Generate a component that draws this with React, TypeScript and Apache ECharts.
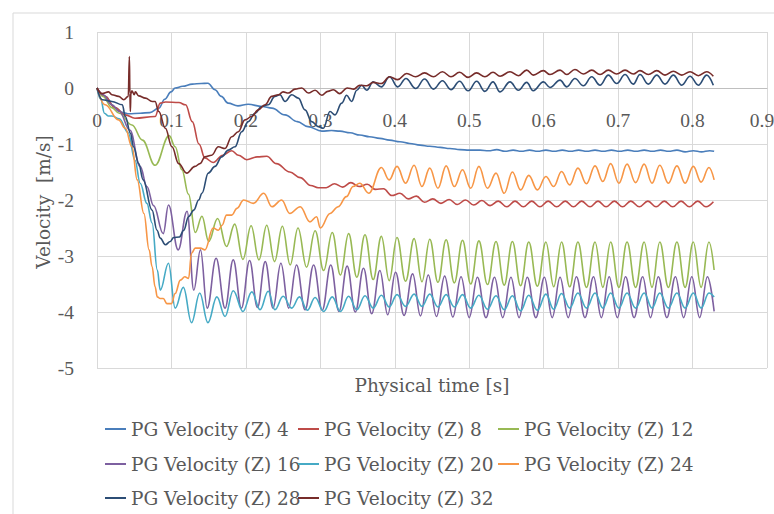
import React, { useEffect, useRef } from "react";
import * as echarts from "echarts";

const seriesNames = [
  "PG Velocity (Z) 4",
  "PG Velocity (Z) 8",
  "PG Velocity (Z) 12",
  "PG Velocity (Z) 16",
  "PG Velocity (Z) 20",
  "PG Velocity (Z) 24",
  "PG Velocity (Z) 28",
  "PG Velocity (Z) 32",
];
const seriesColors = ["#4A7EBB", "#BE4B48", "#98B954", "#7D60A0", "#46AAC5", "#F79646", "#2C4D75", "#772C2A"];
const xTickLabels = ["0", "0.1", "0.2", "0.3", "0.4", "0.5", "0.6", "0.7", "0.8", "0.9"];

const s4 = [
  [0, 0], [0.011, -0.15], [0.024, -0.35], [0.035, -0.44], [0.043, -0.46], [0.058, -0.45], [0.071, -0.44],
  [0.083, -0.36], [0.091, -0.2], [0.0994, -0.07], [0.105, 0.0], [0.115, 0.03], [0.128, 0.07], [0.14, 0.08],
  [0.149, 0.085], [0.1585, -0.03], [0.167, -0.15], [0.176, -0.27], [0.1894, -0.32], [0.203, -0.29],
  [0.2217, -0.33], [0.235, -0.36], [0.2526, -0.48], [0.269, -0.6], [0.2834, -0.69], [0.302, -0.77],
  [0.315, -0.76], [0.3264, -0.77], [0.34, -0.8], [0.353, -0.84], [0.366, -0.87], [0.38, -0.9], [0.393, -0.93],
  [0.407, -0.96], [0.42, -0.99], [0.434, -1.02], [0.447, -1.04], [0.461, -1.06], [0.474, -1.08], [0.4876, -1.1],
  [0.5, -1.11], [0.5145, -1.11], [0.526, -1.12], [0.537, -1.1], [0.548, -1.13], [0.559, -1.11], [0.57, -1.13],
  [0.581, -1.11], [0.592, -1.13], [0.603, -1.11], [0.614, -1.13], [0.625, -1.11], [0.636, -1.13], [0.647, -1.11],
  [0.658, -1.13], [0.669, -1.11], [0.68, -1.13], [0.691, -1.11], [0.702, -1.13], [0.713, -1.11], [0.724, -1.13],
  [0.735, -1.11], [0.746, -1.13], [0.757, -1.11], [0.768, -1.13], [0.779, -1.11], [0.79, -1.14], [0.801, -1.12],
  [0.812, -1.14], [0.823, -1.12], [0.829, -1.13],
];

const s8 = [
  [0, 0], [0.011, -0.15], [0.024, -0.35], [0.038, -0.48], [0.051, -0.54], [0.078, -0.51], [0.085, -0.27],
  [0.092, -0.25], [0.11, -0.26], [0.119, -0.3], [0.128, -0.6], [0.137, -1.0], [0.145, -1.25], [0.156, -1.33],
  [0.169, -1.2], [0.181, -1.12], [0.19, -1.2], [0.201, -1.28], [0.215, -1.23], [0.228, -1.22], [0.241, -1.35],
  [0.259, -1.5], [0.273, -1.6], [0.287, -1.74], [0.297, -1.78], [0.308, -1.78], [0.319, -1.71], [0.33, -1.77],
  [0.341, -1.69], [0.352, -1.76], [0.363, -1.72], [0.374, -1.81], [0.385, -1.8], [0.396, -1.92], [0.407, -1.88],
  [0.418, -1.98], [0.429, -1.93], [0.44, -2.04], [0.451, -1.98], [0.462, -2.06], [0.473, -1.99], [0.484, -2.08],
  [0.495, -2.0], [0.506, -2.09], [0.517, -2.01], [0.528, -2.1], [0.539, -2.02], [0.5504, -2.12], [0.5615, -2.02],
  [0.5727, -2.12], [0.584, -2.02], [0.595, -2.12], [0.606, -2.02], [0.6175, -2.12], [0.629, -2.02], [0.64, -2.12],
  [0.651, -2.02], [0.6623, -2.12], [0.673, -2.02], [0.6838, -2.12], [0.695, -2.02], [0.706, -2.12], [0.717, -2.02],
  [0.7285, -2.12], [0.74, -2.02], [0.751, -2.12], [0.762, -2.02], [0.7734, -2.12], [0.7845, -2.02], [0.7957, -2.12],
  [0.807, -2.02], [0.818, -2.12], [0.828, -2.03],
];

const s12 = [
  [0, 0], [0.008, -0.15], [0.02, -0.35], [0.03, -0.45], [0.047, -0.66], [0.061, -0.93], [0.078, -1.38],
  [0.097, -0.85], [0.105, -1.05], [0.114, -1.46], [0.123, -1.9], [0.132, -2.58],
  [0.141, -2.29], [0.15, -2.74], [0.162, -2.33], [0.174, -2.83], [0.185, -2.43], [0.196, -3.06], [0.207, -2.46],
  [0.2175, -3.07], [0.228, -2.45], [0.2385, -3.1], [0.249, -2.47], [0.2595, -3.16], [0.27, -2.5], [0.2815, -3.2],
  [0.293, -2.55], [0.3045, -3.26], [0.316, -2.58], [0.327, -3.34], [0.338, -2.6], [0.349, -3.38], [0.36, -2.62],
  [0.371, -3.42], [0.382, -2.65], [0.3925, -3.44], [0.403, -2.67], [0.4145, -3.45], [0.426, -2.69], [0.4365, -3.46],
  [0.447, -2.7], [0.458, -3.47], [0.469, -2.71], [0.48, -3.48], [0.491, -2.72], [0.502, -3.5], [0.513, -2.73],
  [0.5245, -3.51], [0.536, -2.74], [0.547, -3.52], [0.558, -2.74], [0.569, -3.53], [0.58, -2.75], [0.5915, -3.54],
  [0.603, -2.75], [0.6135, -3.55], [0.624, -2.75], [0.635, -3.55], [0.646, -2.75], [0.6575, -3.56], [0.669, -2.75],
  [0.6795, -3.56], [0.69, -2.75], [0.701, -3.56], [0.712, -2.75], [0.7235, -3.56], [0.735, -2.75], [0.7455, -3.56],
  [0.756, -2.75], [0.7675, -3.56], [0.779, -2.75], [0.79, -3.56], [0.801, -2.75], [0.8115, -3.56], [0.822, -2.75],
  [0.829, -3.25],
];

const s16 = [
  [0, 0], [0.008, -0.12], [0.02, -0.3], [0.03, -0.42], [0.044, -0.75], [0.058, -1.4], [0.067, -1.76],
  [0.076, -2.1], [0.089, -2.6], [0.096, -2.09], [0.109, -2.89], [0.121, -2.2], [0.13, -3.61], [0.139, -2.89],
  [0.148, -3.93], [0.16, -3.04], [0.172, -3.93], [0.183, -3.07], [0.194, -3.93], [0.205, -3.08], [0.2155, -3.92],
  [0.226, -3.1], [0.2365, -3.93], [0.247, -3.13], [0.2575, -3.93], [0.268, -3.16], [0.2795, -3.96], [0.291, -3.16],
  [0.3025, -3.97], [0.314, -3.16], [0.325, -3.99], [0.336, -3.18], [0.347, -4.0], [0.358, -3.22], [0.369, -4.03],
  [0.38, -3.26], [0.3905, -4.05], [0.401, -3.29], [0.4125, -4.06], [0.424, -3.32], [0.4345, -4.07], [0.445, -3.34],
  [0.456, -4.08], [0.467, -3.36], [0.478, -4.09], [0.489, -3.37], [0.5, -4.1], [0.511, -3.38], [0.5225, -4.1],
  [0.534, -3.38], [0.545, -4.1], [0.556, -3.38], [0.567, -4.1], [0.578, -3.38], [0.5895, -4.1], [0.601, -3.38],
  [0.6115, -4.1], [0.622, -3.38], [0.633, -4.1], [0.644, -3.37], [0.6555, -4.1], [0.667, -3.37], [0.6775, -4.1],
  [0.688, -3.37], [0.699, -4.1], [0.71, -3.37], [0.7215, -4.1], [0.733, -3.37], [0.7435, -4.1], [0.754, -3.37],
  [0.7655, -4.1], [0.777, -3.37], [0.788, -4.1], [0.799, -3.37], [0.8095, -4.1], [0.82, -3.37], [0.829, -3.99],
];

const s20 = [
  [0, 0], [0.005, -0.2], [0.01, -0.45], [0.015, -0.5], [0.02, -0.5], [0.03, -0.55], [0.042, -0.8], [0.051, -1.29],
  [0.058, -1.7], [0.067, -2.06], [0.074, -2.41], [0.081, -3.25], [0.085, -3.61], [0.096, -3.13], [0.105, -3.93],
  [0.116, -3.56], [0.127, -4.19], [0.138, -3.66], [0.149, -4.19], [0.161, -3.73], [0.172, -4.08], [0.183, -3.62],
  [0.196, -3.99], [0.208, -3.64], [0.219, -3.96], [0.23, -3.63], [0.239, -3.96], [0.25, -3.72], [0.2615, -3.93],
  [0.272, -3.73], [0.2825, -3.97], [0.293, -3.74], [0.3045, -3.99], [0.316, -3.73], [0.327, -3.99], [0.338, -3.72],
  [0.349, -3.96], [0.36, -3.71], [0.371, -3.93], [0.382, -3.7], [0.3925, -3.91], [0.403, -3.69], [0.4145, -3.9],
  [0.426, -3.68], [0.4365, -3.9], [0.447, -3.68], [0.458, -3.91], [0.469, -3.69], [0.48, -3.91], [0.491, -3.69],
  [0.502, -3.93], [0.513, -3.7], [0.5245, -3.95], [0.536, -3.71], [0.547, -3.96], [0.558, -3.71], [0.569, -3.98],
  [0.58, -3.7], [0.5915, -3.97], [0.603, -3.68], [0.6135, -3.95], [0.624, -3.67], [0.635, -3.93], [0.646, -3.66],
  [0.6575, -3.93], [0.669, -3.66], [0.6795, -3.93], [0.69, -3.66], [0.701, -3.93], [0.712, -3.66], [0.7235, -3.93],
  [0.735, -3.66], [0.7455, -3.93], [0.756, -3.66], [0.7675, -3.93], [0.779, -3.66], [0.79, -3.93], [0.801, -3.66],
  [0.8115, -3.93], [0.822, -3.66], [0.829, -3.73],
];

const s24 = [
  [0, 0], [0.011, -0.3], [0.029, -0.57], [0.038, -0.72], [0.047, -1.05], [0.054, -1.64], [0.063, -2.24],
  [0.07, -2.89], [0.074, -3.19], [0.078, -3.55], [0.081, -3.73], [0.085, -3.76], [0.089, -3.76], [0.094, -3.85],
  [0.1, -3.85], [0.105, -3.67], [0.112, -3.43], [0.118, -3.37], [0.123, -3.4], [0.127, -2.95], [0.132, -2.86],
  [0.139, -2.86], [0.145, -2.89], [0.156, -2.5], [0.163, -2.54], [0.168, -2.45], [0.174, -2.27], [0.181, -2.27],
  [0.188, -2.15], [0.197, -2.0], [0.21, -2.06], [0.224, -1.88], [0.235, -2.12], [0.248, -2.0], [0.259, -2.24],
  [0.273, -2.12], [0.286, -2.39], [0.295, -2.3], [0.3, -2.5], [0.313, -2.24], [0.324, -2.12], [0.335, -1.94],
  [0.344, -1.76], [0.353, -1.7], [0.365, -1.88], [0.382, -1.42], [0.3925, -1.64], [0.403, -1.4], [0.4145, -1.7],
  [0.426, -1.38], [0.4365, -1.76], [0.447, -1.43], [0.458, -1.79], [0.469, -1.39], [0.48, -1.76], [0.491, -1.46],
  [0.502, -1.79], [0.513, -1.4], [0.5245, -1.79], [0.536, -1.52], [0.547, -1.88], [0.558, -1.5], [0.569, -1.82],
  [0.58, -1.56], [0.5915, -1.82], [0.603, -1.58], [0.6135, -1.76], [0.624, -1.49], [0.635, -1.73], [0.646, -1.43],
  [0.6575, -1.71], [0.669, -1.39], [0.6795, -1.67], [0.69, -1.35], [0.701, -1.7], [0.712, -1.36], [0.7235, -1.69],
  [0.735, -1.36], [0.7455, -1.7], [0.756, -1.38], [0.7675, -1.7], [0.779, -1.39], [0.79, -1.7], [0.801, -1.4],
  [0.8115, -1.68], [0.822, -1.42], [0.829, -1.64],
];

const s28 = [
  [0, 0], [0.007, -0.21], [0.02, -0.24], [0.034, -0.3], [0.038, -0.51], [0.045, -0.81], [0.049, -1.05],
  [0.056, -1.35], [0.062, -1.64], [0.0739, -2.18], [0.0806, -2.54], [0.085, -2.68], [0.0918, -2.8], [0.0985, -2.74],
  [0.103, -2.67], [0.1106, -2.66], [0.1165, -2.54], [0.123, -2.3], [0.13, -2.18], [0.1366, -2.0], [0.141, -1.88],
  [0.1495, -1.52], [0.1585, -1.4], [0.1675, -1.23], [0.1764, -1.11], [0.1854, -1.05], [0.1944, -0.78],
  [0.2033, -0.6], [0.2122, -0.45], [0.2213, -0.33], [0.23, -0.3], [0.239, -0.15], [0.2458, -0.12], [0.2526, -0.24],
  [0.2616, -0.12], [0.2704, -0.18], [0.2794, -0.39], [0.2884, -0.6], [0.2973, -0.69], [0.304, -0.72],
  [0.313, -0.42], [0.3197, -0.48], [0.3287, -0.27], [0.3354, -0.13], [0.342, -0.24], [0.349, -0.04], [0.3556, 0.05],
  [0.3623, -0.04], [0.371, 0.11], [0.382, 0.02], [0.393, 0.2], [0.404, 0.02], [0.415, 0.17], [0.428, -0.01],
  [0.44, 0.16], [0.452, -0.02], [0.464, 0.13], [0.4755, -0.03], [0.487, 0.12], [0.4985, -0.05], [0.51, 0.12],
  [0.521, -0.06], [0.532, 0.11], [0.5414, -0.07], [0.5548, 0.11], [0.566, -0.04], [0.5772, 0.1], [0.586, -0.05],
  [0.5996, 0.11], [0.6085, 0.01], [0.622, 0.14], [0.631, 0.02], [0.642, 0.17], [0.6533, 0.04], [0.6646, 0.2],
  [0.6757, 0.05], [0.6869, 0.23], [0.6981, 0.08], [0.7093, 0.24], [0.7204, 0.07], [0.7294, 0.24], [0.7406, 0.07],
  [0.7519, 0.23], [0.763, 0.07], [0.7742, 0.23], [0.7855, 0.05], [0.7966, 0.21], [0.8078, 0.05], [0.819, 0.23],
  [0.8279, 0.05],
];

const s32 = [
  [0, 0], [0.0067, -0.1], [0.0156, -0.07], [0.02, -0.12], [0.029, -0.15], [0.036, -0.21], [0.042, -0.15],
  [0.0435, 0.56], [0.0442, -0.1], [0.0448, -0.42], [0.0455, -0.1], [0.047, -0.05], [0.05, -0.12], [0.0515, -0.07],
  [0.056, -0.14], [0.065, -0.18], [0.074, -0.24], [0.078, -0.24], [0.083, -0.42], [0.0918, -0.72], [0.1007, -1.05],
  [0.1097, -1.35], [0.1205, -1.52], [0.1316, -1.4], [0.1384, -1.35], [0.145, -1.23], [0.154, -1.2], [0.163, -1.05],
  [0.172, -1.08], [0.181, -0.87], [0.1898, -0.78], [0.1988, -0.57], [0.2078, -0.51], [0.2167, -0.39],
  [0.2257, -0.3], [0.2347, -0.15], [0.2436, -0.12], [0.25, -0.07], [0.257, -0.09], [0.266, -0.02], [0.275, 0.0],
  [0.284, -0.09], [0.293, -0.04], [0.302, -0.13], [0.31, -0.06], [0.3175, -0.03], [0.326, -0.1], [0.336, 0.0],
  [0.345, -0.02], [0.353, 0.05], [0.3623, 0.04], [0.371, 0.1], [0.382, 0.08], [0.393, 0.2], [0.404, 0.15],
  [0.416, 0.26], [0.428, 0.2], [0.44, 0.27], [0.452, 0.2], [0.464, 0.29], [0.4755, 0.2], [0.487, 0.28],
  [0.4985, 0.19], [0.51, 0.27], [0.521, 0.2], [0.532, 0.28], [0.5414, 0.21], [0.5548, 0.29], [0.566, 0.22],
  [0.5772, 0.32], [0.586, 0.23], [0.5996, 0.31], [0.6085, 0.24], [0.622, 0.32], [0.631, 0.24], [0.642, 0.33],
  [0.6533, 0.25], [0.6646, 0.32], [0.6757, 0.24], [0.6869, 0.32], [0.6981, 0.25], [0.7093, 0.32], [0.7204, 0.25],
  [0.7294, 0.31], [0.7406, 0.24], [0.7519, 0.31], [0.763, 0.23], [0.7742, 0.3], [0.7855, 0.23], [0.7966, 0.29],
  [0.8078, 0.22], [0.819, 0.29], [0.8279, 0.21],
];

const allSeries = [s4, s8, s12, s16, s20, s24, s28, s32];

const FONT = "'DejaVu Serif', 'Liberation Serif', serif";
const NUM_FONT = "'Liberation Serif', 'DejaVu Serif', serif";
const TEXT_COLOR = "#595959";

export default function App() {
  const ref = useRef<HTMLDivElement>(null);

  useEffect(() => {
    document.body.style.margin = "0";
    document.body.style.overflow = "hidden";
    if (!ref.current) return;
    const chart = echarts.init(ref.current, null, { renderer: "svg" });
    const legendLeft = [105, 298, 498];
    const legendTop = [419, 454, 488];
    chart.setOption({
      animation: false,
      backgroundColor: "#ffffff",
      grid: { left: 97, right: 7, top: 32, bottom: 146, containLabel: false, outerBoundsMode: "none" },
      xAxis: {
        type: "value",
        position: "bottom",
        offset: -280,
        min: 0,
        max: 0.9,
        interval: 0.1,
        axisLine: { show: true, onZero: false, lineStyle: { color: "#BFBFBF", width: 1 } },
        axisTick: { show: false },
        axisLabel: {
          color: TEXT_COLOR,
          fontFamily: NUM_FONT,
          fontSize: 19.5,
          margin: 22,
          showMaxLabel: true,
          showMinLabel: true,
          formatter: (v: number) => {
            const i = Math.round(v * 10);
            return i === xTickLabels.length - 1 ? "{last|" + xTickLabels[i] + "}" : xTickLabels[i];
          },
          rich: {
            last: { padding: [0, 10, 0, 0], fontFamily: NUM_FONT, fontSize: 19.5, color: TEXT_COLOR },
          },
        },
        splitLine: { show: true, lineStyle: { color: "#D9D9D9", width: 1 } },
      },
      yAxis: {
        type: "value",
        min: -5,
        max: 1,
        interval: 1,
        axisLine: { show: false, onZero: false },
        axisTick: { show: false },
        axisLabel: { color: TEXT_COLOR, fontFamily: NUM_FONT, fontSize: 19.5, margin: 23 },
        splitLine: { show: true, lineStyle: { color: "#D9D9D9", width: 1 } },
      },
      legend: seriesNames.map((n, i) => ({
        data: [n],
        left: legendLeft[i % 3],
        top: legendTop[Math.floor(i / 3)],
        padding: 0,
        icon: "rect",
        itemWidth: 21,
        itemHeight: 2,
        selectedMode: false,
        textStyle: { color: TEXT_COLOR, fontFamily: FONT, fontSize: 18.5, lineHeight: 20 },
      })),
      graphic: [
        {
          type: "rect",
          shape: { x: 13, y: 13, width: 900, height: 700 },
          style: { fill: "none", stroke: "#D9D9D9", lineWidth: 1 },
          silent: true,
        },
        {
          type: "text",
          x: 43,
          y: 202,
          rotation: Math.PI / 2,
          style: {
            text: "Velocity  [m/s]",
            fill: TEXT_COLOR,
            fontFamily: FONT,
            fontSize: 18.5,
            align: "center",
            verticalAlign: "middle",
          },
        },
        {
          type: "text",
          x: 432,
          y: 385,
          style: {
            text: "Physical time [s]",
            fill: TEXT_COLOR,
            fontFamily: FONT,
            fontSize: 18.5,
            align: "center",
            verticalAlign: "middle",
          },
        },
      ],
      series: allSeries.map((d, i) => ({
        name: seriesNames[i],
        type: "line",
        data: d,
        symbol: "none",
        showSymbol: false,
        smooth: 0.4,
        smoothMonotone: "x",
        color: seriesColors[i],
        lineStyle: { width: 1.6, color: seriesColors[i] },
      })),
    });
    return () => chart.dispose();
  }, []);

  return <div ref={ref} style={{ width: 774, height: 514 }} />;
}
